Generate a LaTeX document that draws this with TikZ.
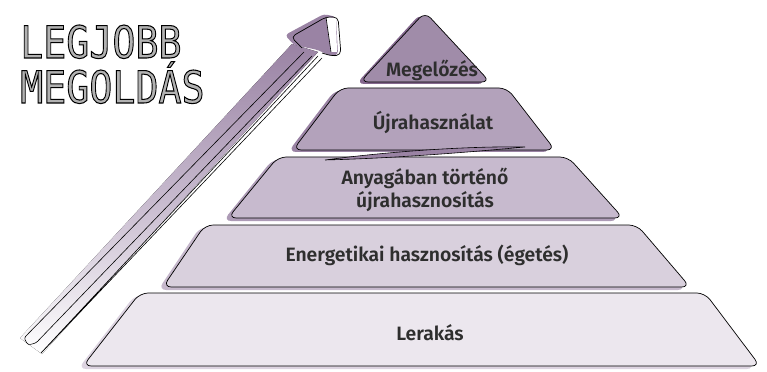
\documentclass[tikz,border=0pt]{standalone}
\usepackage{fontspec}
\setmainfont{Fira Sans}
\IfFontExistsTF{Fira Sans SemiBold}{\newfontfamily\labelfont{Fira Sans SemiBold}}{\newfontfamily\labelfont{Fira Sans}[BoldFont={*}]}
\newfontfamily\headfont{DejaVu Sans Mono}
\usetikzlibrary{positioning}

\definecolor{lvla}{HTML}{A08CA9}
\definecolor{lvlb}{HTML}{B3A2BB}
\definecolor{lvlc}{HTML}{C7BACE}
\definecolor{lvld}{HTML}{D9D0DD}
\definecolor{lvle}{HTML}{ECE7EE}
\definecolor{shda}{HTML}{85698F}
\definecolor{shdb}{HTML}{9A83A4}
\definecolor{shdc}{HTML}{AD9BB6}
\definecolor{shdd}{HTML}{C6B8CC}
\definecolor{shde}{HTML}{DCD3E0}
\definecolor{txt}{HTML}{2E2E2E}

\newcommand{\outlined}[1]{\special{pdf:literal direct 0 0 0 RG 0.9 w 2 Tr}#1\special{pdf:literal direct 0 Tr}}

\tikzset{
  layer/.style={draw=black, line width=0.6pt, rounded corners=7pt},
  shade/.style={rounded corners=7pt},
  label/.style={font=\labelfont\fontsize{16.5}{19}\selectfont, text=txt, align=center, inner sep=0pt},
  head/.style={font=\headfont\fontsize{38}{40}\selectfont, xscale=0.86, text=black!30, anchor=base west, inner sep=0pt}
}

\begin{document}
\begin{tikzpicture}[x=0.03cm, y=-0.03cm]
\useasboundingbox (0,0) rectangle (767,372);

% arrow
\fill[top color=shdb, bottom color=white, middle color=lvlc] (292,44) -- (318,52) -- (42,354) -- (20,338) -- cycle;
\draw[black, line width=0.5pt, rounded corners=2pt] (304,52) -- (24,338) -- (28,345) -- (36,343) -- (312,56);
\draw[black, line width=0.5pt, rounded corners=2pt] (318,56) -- (40,354) -- (44,350) -- (322,58);
\fill[shdb, rounded corners=3pt] (294,45) -- (285,35) -- (324,14) -- (336,17) -- (338,55) -- (330,56) -- (318,50) -- cycle;
\fill[white] (326,17) -- (336,18) -- (337,52) -- (331,52) -- cycle;
\draw[black, line width=0.6pt, rounded corners=4pt] (302,48) -- (291,37) -- (326,17) -- (338,17) -- (341,55) -- (332,56) -- (322,53);
\draw[black, line width=0.5pt] (326,17) -- (331,52);

% layers
\fill[shde, shade] (135,295) -- (700,295) -- (755,369) -- (78,369) -- cycle;
\draw[layer, fill=lvle] (140,293) -- (705,293) -- (760,366) -- (83,366) -- cycle;

\fill[shdd, shade] (200,227) -- (632,227) -- (686,290) -- (158,290) -- cycle;
\draw[layer, fill=lvld] (205,225) -- (637,225) -- (690,287) -- (163,287) -- cycle;

\fill[shdc, shade] (273,159) -- (563,159) -- (619,221) -- (223,221) -- cycle;
\draw[layer, fill=lvlc] (278,157) -- (568,157) -- (623,218) -- (228,218) -- cycle;

\fill[shdb, shade] (335,90) -- (502,90) -- (551,152) -- (288,152) -- cycle;
\draw[layer, fill=lvlb] (340,88) -- (507,88) -- (555,150) -- (293,150) -- cycle;
\draw[black, line width=0.5pt, fill=shdb] (325,160) .. controls (400,150) and (480,146) .. (525,147) .. controls (470,152) and (400,158) .. (325,160);

\fill[shda, shade] (421,13) -- (486,84) -- (356,84) -- cycle;
\draw[layer, fill=lvla] (425,12) -- (490,82) -- (360,82) -- cycle;

% labels
\node (M) at (432,70) [label] {Megelőzés};
\node (U) at (433,122) [label] {Újrahasználat};
\node (A) at (425,190) [label] {Anyagában történő\\újrahasznosítás};
\node (E) at (427,255) [label] {Energetikai hasznosítás (égetés)};
\node (L) at (430,333) [label] {Lerakás};

\node (H1) at (20,58) [head] {\outlined{LEGJOBB}};
\node (H2) at (20,103) [head] {\outlined{MEGOLDÁS}};

\end{tikzpicture}
\end{document}
